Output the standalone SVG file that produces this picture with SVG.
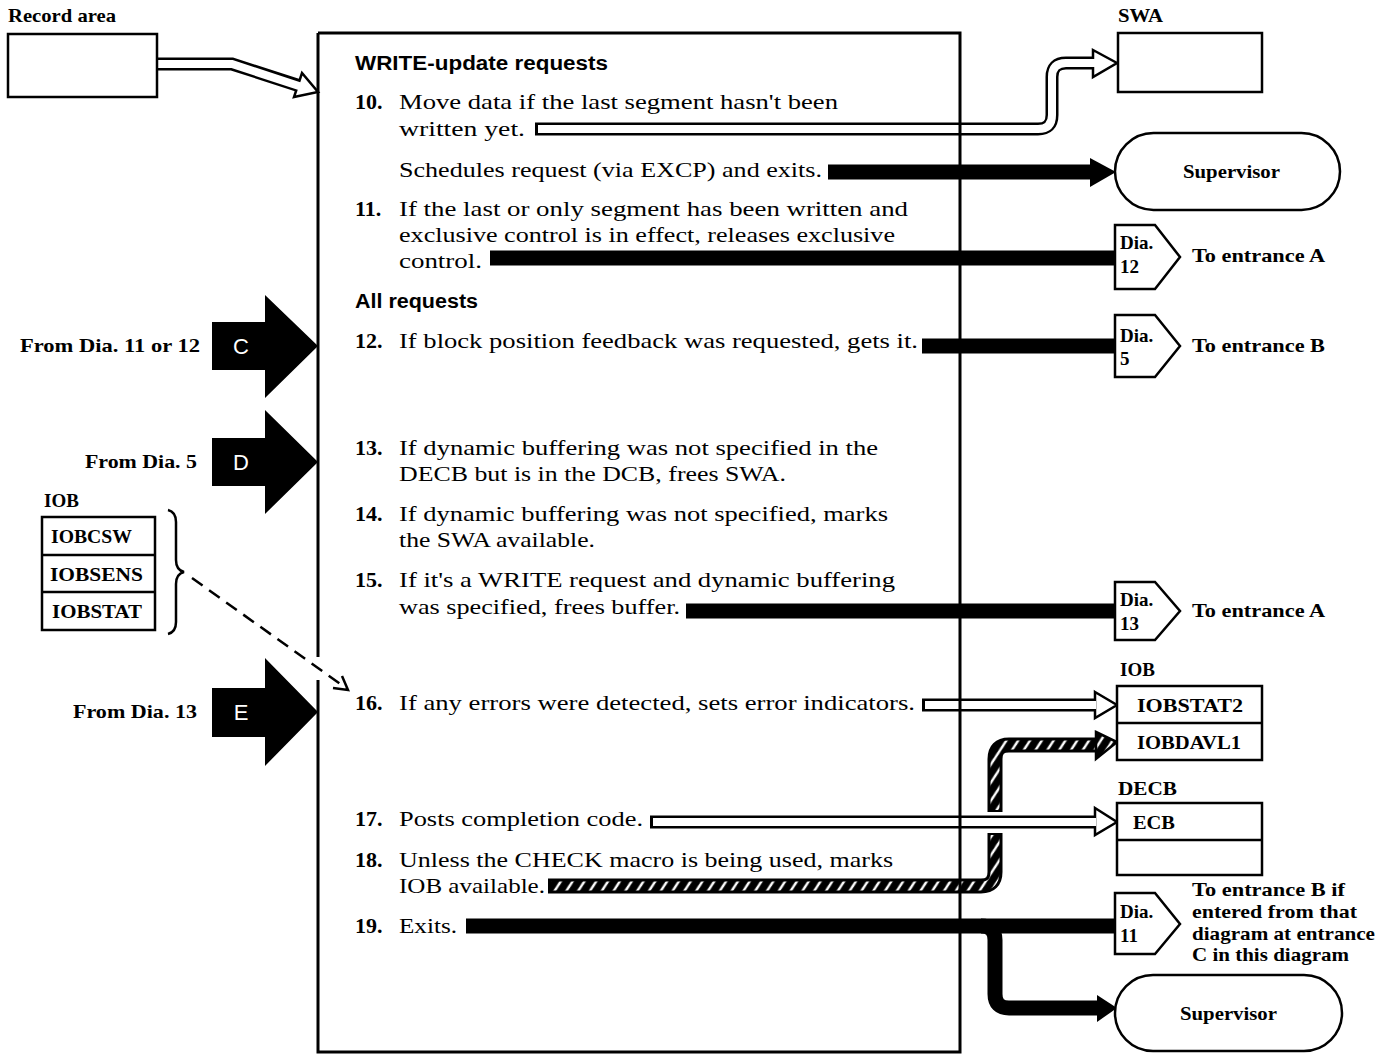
<svg xmlns="http://www.w3.org/2000/svg" width="1382" height="1057" viewBox="0 0 1382 1057">
<style>
.lbl{font-family:"Liberation Serif",serif;font-weight:bold;font-size:19px;fill:#000}
.body{font-family:"Liberation Serif",serif;font-size:22px;fill:#000}
.num{font-family:"Liberation Serif",serif;font-weight:bold;font-size:22px;fill:#000}
.head{font-family:"Liberation Sans",sans-serif;font-weight:bold;font-size:20px;fill:#000}
.box{fill:#fff;stroke:#000;stroke-width:2.5}
.blk{fill:none;stroke:#000;stroke-width:15}
.hol-o{fill:none;stroke:#000;stroke-width:13}
.hol-i{fill:none;stroke:#fff;stroke-width:8}
.hat-o{fill:none;stroke:#000;stroke-width:15}
.hat-i{fill:none;stroke:url(#hatch);stroke-width:9}
.ent{fill:#000}
.entl{font-family:"Liberation Sans",sans-serif;font-size:22px;fill:#fff}
</style>
<defs>
<pattern id="hatch" patternUnits="userSpaceOnUse" width="14" height="14" patternTransform="rotate(-12)">
<rect width="14" height="14" fill="#000"/>
<path d="M0,14 L14,0 M-2,2 L2,-2 M12,16 L16,12" stroke="#fff" stroke-width="2.4"/>
</pattern>
</defs>
<rect width="1382" height="1057" fill="#fff"/>

<g id="connectors">
<path class="hol-o" d="M157,64 H232 L300,86"/>
<polygon class="box" points="294,97 318,92 302,73"/>
<path class="hol-i" d="M155,64 H232 L302,87"/>
<path class="hol-o" d="M535,129 H1038 Q1052,129 1052,115 V77 Q1052,63 1066,63 H1095"/>
<polygon class="box" points="1093,50 1117,63 1093,77"/>
<path class="hol-i" d="M538,129 H1038 Q1052,129 1052,115 V77 Q1052,63 1066,63 H1096"/>
<path class="blk" d="M828,172 H1095"/>
<polygon fill="#000" points="1090,158 1116,172 1090,187"/>
<path class="blk" d="M490,258 H1116"/>
<path class="blk" d="M922,346 H1116"/>
<path class="blk" d="M686,611 H1116"/>
<path class="hol-o" d="M922,705 H1095"/>
<polygon class="box" points="1095,692 1117,705 1095,718"/>
<path class="hol-i" d="M925,705 H1096"/>
<path class="hat-o" d="M548,886 H981 Q995,886 995,872 V833"/>
<path class="hat-i" d="M551,886 H981 Q995,886 995,872 V835"/>
<path class="hat-o" d="M995,812 V759 Q995,745 1009,745 H1098"/>
<path class="hat-i" d="M995,810 V759 Q995,745 1009,745 H1098"/>
<polygon fill="url(#hatch)" stroke="#000" stroke-width="2.5" points="1096,732 1117,742 1096,759"/>
<path class="hol-o" d="M650,822 H1095"/>
<polygon class="box" points="1095,808 1117,822 1095,835"/>
<path class="hol-i" d="M653,822 H1096"/>
<path class="blk" d="M466,926 H1116"/>
<path class="blk" d="M981,926 Q995,926 995,940 V994 Q995,1008 1009,1008 H1100"/>
<polygon fill="#000" points="1097,995 1117,1008 1097,1022"/>
<path d="M192,578 L346,688" fill="none" stroke="#000" stroke-width="2.5" stroke-dasharray="13,8"/>
<path d="M333,688 L348,690 L342,676" fill="none" stroke="#000" stroke-width="2.5"/>
</g>

<g id="main">
<path d="M318,33 H960 V1052 H318 V680 M318,657 V33" fill="none" stroke="#000" stroke-width="3"/>
<text class="head" x="355" y="70" textLength="253" lengthAdjust="spacingAndGlyphs">WRITE-update requests</text>
<text class="num" x="355" y="109">10.</text>
<text class="body" x="399" y="109" textLength="439" lengthAdjust="spacingAndGlyphs">Move data if the last segment hasn't been</text>
<text class="body" x="399" y="136" textLength="126" lengthAdjust="spacingAndGlyphs">written yet.</text>
<text class="body" x="399" y="177" textLength="423" lengthAdjust="spacingAndGlyphs">Schedules request (via EXCP) and exits.</text>
<text class="num" x="355" y="216">11.</text>
<text class="body" x="399" y="216" textLength="509" lengthAdjust="spacingAndGlyphs">If the last or only segment has been written and</text>
<text class="body" x="399" y="242" textLength="496" lengthAdjust="spacingAndGlyphs">exclusive control is in effect, releases exclusive</text>
<text class="body" x="399" y="268" textLength="83" lengthAdjust="spacingAndGlyphs">control.</text>
<text class="head" x="355" y="308" textLength="123" lengthAdjust="spacingAndGlyphs">All requests</text>
<text class="num" x="355" y="348">12.</text>
<text class="body" x="399" y="348" textLength="519" lengthAdjust="spacingAndGlyphs">If block position feedback was requested, gets it.</text>
<text class="num" x="355" y="455">13.</text>
<text class="body" x="399" y="455" textLength="479" lengthAdjust="spacingAndGlyphs">If dynamic buffering was not specified in the</text>
<text class="body" x="399" y="481" textLength="387" lengthAdjust="spacingAndGlyphs">DECB but is in the DCB, frees SWA.</text>
<text class="num" x="355" y="521">14.</text>
<text class="body" x="399" y="521" textLength="489" lengthAdjust="spacingAndGlyphs">If dynamic buffering was not specified, marks</text>
<text class="body" x="399" y="547" textLength="196" lengthAdjust="spacingAndGlyphs">the SWA available.</text>
<text class="num" x="355" y="587">15.</text>
<text class="body" x="399" y="587" textLength="496" lengthAdjust="spacingAndGlyphs">If it's a WRITE request and dynamic buffering</text>
<text class="body" x="399" y="614" textLength="281" lengthAdjust="spacingAndGlyphs">was specified, frees buffer.</text>
<text class="num" x="355" y="710">16.</text>
<text class="body" x="399" y="710" textLength="516" lengthAdjust="spacingAndGlyphs">If any errors were detected, sets error indicators.</text>
<text class="num" x="355" y="826">17.</text>
<text class="body" x="399" y="826" textLength="244" lengthAdjust="spacingAndGlyphs">Posts completion code.</text>
<text class="num" x="355" y="867">18.</text>
<text class="body" x="399" y="867" textLength="494" lengthAdjust="spacingAndGlyphs">Unless the CHECK macro is being used, marks</text>
<text class="body" x="399" y="893" textLength="146" lengthAdjust="spacingAndGlyphs">IOB available.</text>
<text class="num" x="355" y="933">19.</text>
<text class="body" x="399" y="933" textLength="58" lengthAdjust="spacingAndGlyphs">Exits.</text>
</g>

<g id="record-area">
<text class="lbl" x="8" y="22" textLength="108" lengthAdjust="spacingAndGlyphs">Record area</text>
<rect class="box" x="8" y="34" width="149" height="63"/>
</g>

<g id="swa">
<text class="lbl" x="1118" y="22" textLength="45" lengthAdjust="spacingAndGlyphs">SWA</text>
<rect class="box" x="1118" y="33" width="144" height="59"/>
</g>

<g id="supervisor1">
<rect class="box" x="1115" y="133" width="225" height="77" rx="38.5"/>
<text class="lbl" x="1183" y="178" textLength="97" lengthAdjust="spacingAndGlyphs">Supervisor</text>
</g>

<g id="dia12">
<polygon class="box" points="1115,225 1155,225 1180,257 1155,289 1115,289"/>
<text class="lbl" x="1120" y="249">Dia.</text>
<text class="lbl" x="1120" y="273">12</text>
<text class="lbl" x="1192" y="262" textLength="133" lengthAdjust="spacingAndGlyphs">To entrance A</text>
</g>

<g id="dia5">
<polygon class="box" points="1115,315 1155,315 1180,346 1155,377 1115,377"/>
<text class="lbl" x="1120" y="342">Dia.</text>
<text class="lbl" x="1120" y="365">5</text>
<text class="lbl" x="1192" y="352" textLength="133" lengthAdjust="spacingAndGlyphs">To entrance B</text>
</g>

<g id="dia13">
<polygon class="box" points="1115,582 1155,582 1180,611 1155,640 1115,640"/>
<text class="lbl" x="1120" y="606">Dia.</text>
<text class="lbl" x="1120" y="630">13</text>
<text class="lbl" x="1192" y="617" textLength="133" lengthAdjust="spacingAndGlyphs">To entrance A</text>
</g>

<g id="iob-right">
<text class="lbl" x="1120" y="676" font-size="20">IOB</text>
<rect class="box" x="1117" y="686" width="145" height="74"/>
<line x1="1117" y1="723" x2="1262" y2="723" stroke="#000" stroke-width="2.5"/>
<text class="lbl" x="1137" y="712" textLength="106" lengthAdjust="spacingAndGlyphs">IOBSTAT2</text>
<text class="lbl" x="1137" y="749" textLength="104" lengthAdjust="spacingAndGlyphs">IOBDAVL1</text>
</g>

<g id="decb">
<text class="lbl" x="1118" y="795" font-size="20" textLength="59" lengthAdjust="spacingAndGlyphs">DECB</text>
<rect class="box" x="1117" y="803" width="145" height="72"/>
<line x1="1117" y1="840" x2="1262" y2="840" stroke="#000" stroke-width="2.5"/>
<text class="lbl" x="1133" y="829" textLength="42" lengthAdjust="spacingAndGlyphs">ECB</text>
</g>

<g id="dia11">
<polygon class="box" points="1115,893 1155,893 1180,924 1155,954 1115,954"/>
<text class="lbl" x="1120" y="918">Dia.</text>
<text class="lbl" x="1120" y="942">11</text>
<text class="lbl" x="1192" y="896" textLength="153" lengthAdjust="spacingAndGlyphs">To entrance B if</text>
<text class="lbl" x="1192" y="918" textLength="165" lengthAdjust="spacingAndGlyphs">entered from that</text>
<text class="lbl" x="1192" y="940" textLength="183" lengthAdjust="spacingAndGlyphs">diagram at entrance</text>
<text class="lbl" x="1192" y="961" textLength="157" lengthAdjust="spacingAndGlyphs">C in this diagram</text>
</g>

<g id="supervisor2">
<rect class="box" x="1115" y="975" width="227" height="76" rx="38"/>
<text class="lbl" x="1180" y="1020" textLength="97" lengthAdjust="spacingAndGlyphs">Supervisor</text>
</g>

<g id="entry-c">
<polygon class="ent" points="212,322 265,322 265,295 318,346 265,398 265,370 212,370"/>
<text class="entl" x="241" y="354" text-anchor="middle">C</text>
<text class="lbl" x="20" y="352" textLength="180" lengthAdjust="spacingAndGlyphs">From Dia. 11 or 12</text>
</g>

<g id="entry-d">
<polygon class="ent" points="212,438 265,438 265,410 318,462 265,514 265,486 212,486"/>
<text class="entl" x="241" y="470" text-anchor="middle">D</text>
<text class="lbl" x="85" y="468" textLength="112" lengthAdjust="spacingAndGlyphs">From Dia. 5</text>
</g>

<g id="entry-e">
<polygon class="ent" points="212,688 265,688 265,658 318,712 265,766 265,737 212,737"/>
<text class="entl" x="241" y="720" text-anchor="middle">E</text>
<text class="lbl" x="73" y="718" textLength="124" lengthAdjust="spacingAndGlyphs">From Dia. 13</text>
</g>

<g id="iob-left">
<text class="lbl" x="44" y="507" font-size="21">IOB</text>
<rect class="box" x="42" y="517" width="113" height="113"/>
<line x1="42" y1="555" x2="155" y2="555" stroke="#000" stroke-width="2.5"/>
<line x1="42" y1="592" x2="155" y2="592" stroke="#000" stroke-width="2.5"/>
<text class="lbl" x="51" y="543" textLength="81" lengthAdjust="spacingAndGlyphs">IOBCSW</text>
<text class="lbl" x="50" y="581" textLength="93" lengthAdjust="spacingAndGlyphs">IOBSENS</text>
<text class="lbl" x="52" y="618" textLength="90" lengthAdjust="spacingAndGlyphs">IOBSTAT</text>
<path d="M168,510 Q176,512 176,522 V560 Q176,570 184,572 Q176,574 176,584 V622 Q176,632 168,634" fill="none" stroke="#000" stroke-width="2.5"/>
</g>
</svg>
